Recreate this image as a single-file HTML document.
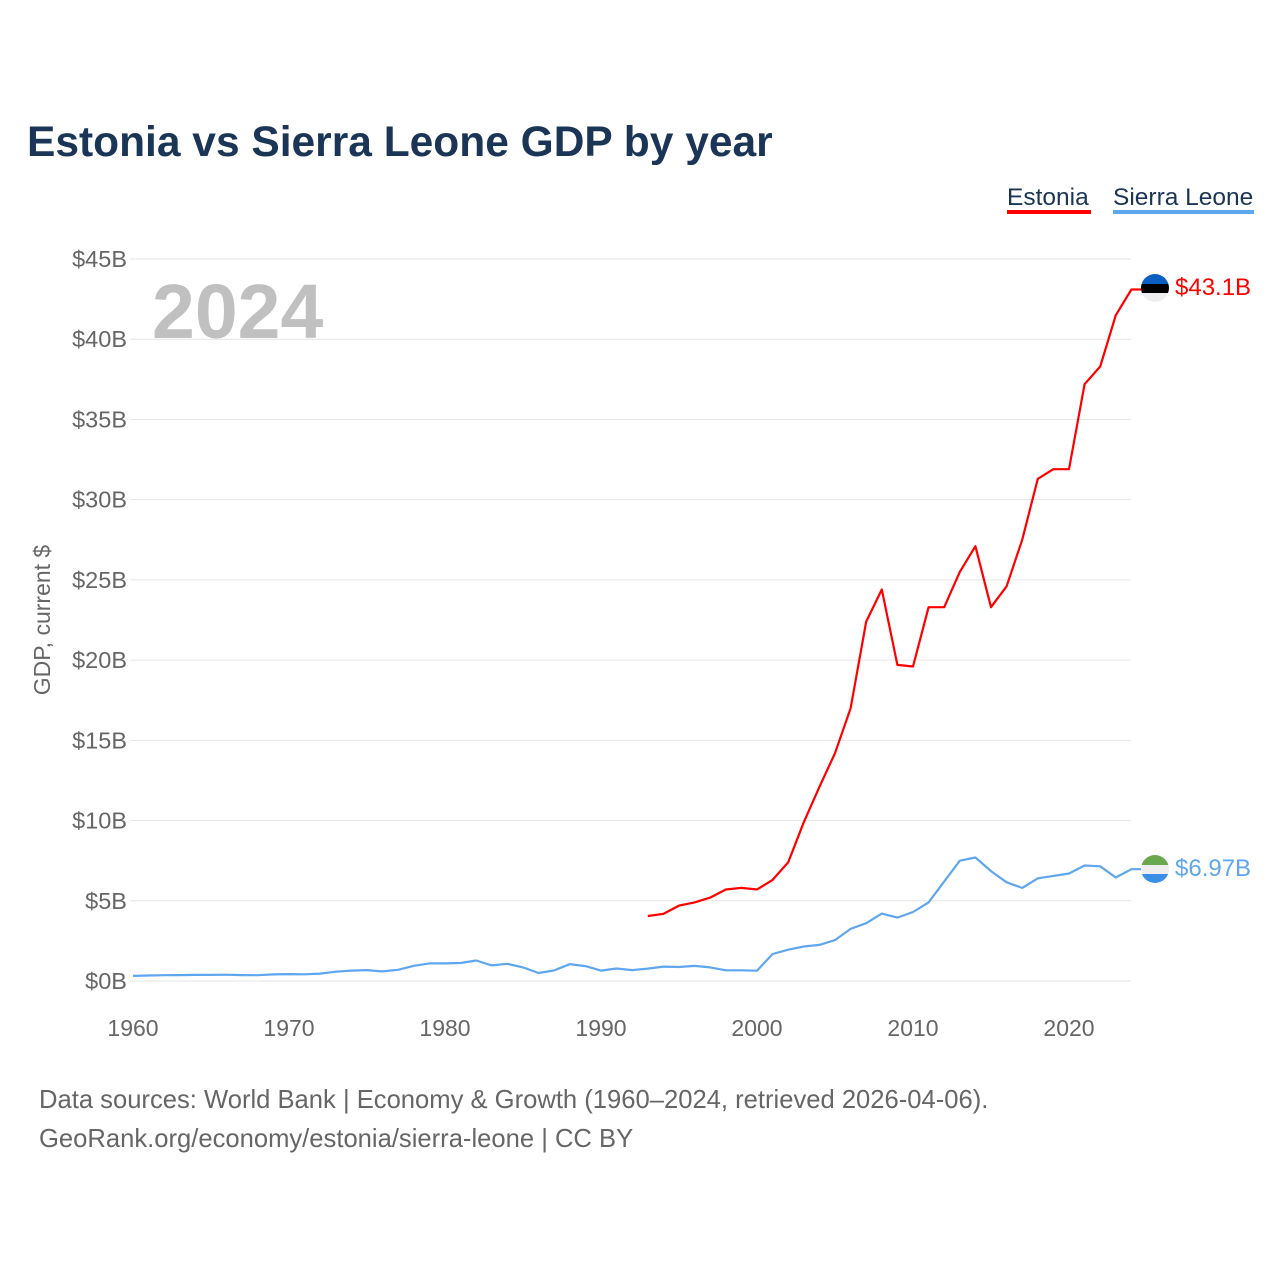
<!DOCTYPE html>
<html><head><meta charset="utf-8"><style>
body{margin:0;background:#fff;font-family:"Liberation Sans",sans-serif;}
</style></head><body>
<svg width="1280" height="1280" xmlns="http://www.w3.org/2000/svg" id="chart" font-family="Liberation Sans, sans-serif">
<text x="27" y="156" font-size="42.5" font-weight="bold" fill="#1b3556">Estonia vs Sierra Leone GDP by year</text>
<g><text x="1007" y="205" font-size="24.5" fill="#1b3556">Estonia</text><rect x="1007" y="210" width="84" height="4" fill="#ff0000"/></g>
<g><text x="1113" y="205" font-size="24.5" fill="#1b3556">Sierra Leone</text><rect x="1113" y="210" width="141" height="4" fill="#5ea6ee"/></g>
<text x="152" y="338" font-size="77" font-weight="bold" fill="#c0c0c0">2024</text>
<text transform="translate(50,620) rotate(-90)" text-anchor="middle" font-size="23" fill="#666">GDP, current $</text>
<g id="grid"></g><g id="yt"></g><g id="xt"></g><g id="lines"></g>
<g><clipPath id="c1"><circle cx="1155" cy="288" r="14"/></clipPath><g clip-path="url(#c1)"><rect x="1141" y="274" width="28" height="10" fill="#0a5fc0"/><rect x="1141" y="284" width="28" height="9" fill="#000"/><rect x="1141" y="293" width="28" height="10" fill="#eee"/></g></g>
<g><clipPath id="c2"><circle cx="1155" cy="869" r="14"/></clipPath><g clip-path="url(#c2)"><rect x="1141" y="855" width="28" height="10" fill="#6aa84f"/><rect x="1141" y="865" width="28" height="9" fill="#eee"/><rect x="1141" y="874" width="28" height="10" fill="#3a8ee6"/></g></g>
<text x="1175" y="295" font-size="24" fill="#ff0000">$43.1B</text>
<text x="1175" y="876" font-size="24" fill="#5ea6ee">$6.97B</text>
<text x="39" y="1108" font-size="25.6" fill="#666">Data sources: World Bank | Economy &amp; Growth (1960–2024, retrieved 2026-04-06).</text>
<text x="39" y="1147" font-size="25.6" fill="#666">GeoRank.org/economy/estonia/sierra-leone | CC BY</text>
</svg>
<script>
const yTicks=[0,5,10,15,20,25,30,35,40,45];
const xTicks=[1960,1970,1980,1990,2000,2010,2020];
const estoniaStart=1993;
const estonia=[4.05,4.18,4.7,4.9,5.2,5.7,5.8,5.7,6.3,7.4,9.9,12.1,14.2,17.0,22.4,24.4,19.7,19.6,23.3,23.3,25.5,27.1,23.3,24.6,27.5,31.3,31.9,31.9,37.2,38.3,41.5,43.1];
const sierraStart=1960;
const sierra=[0.32,0.34,0.36,0.37,0.38,0.38,0.39,0.37,0.36,0.41,0.43,0.42,0.46,0.58,0.65,0.68,0.6,0.7,0.95,1.1,1.1,1.12,1.28,0.97,1.07,0.85,0.5,0.66,1.05,0.93,0.65,0.78,0.68,0.77,0.9,0.87,0.94,0.85,0.67,0.67,0.64,1.68,1.95,2.15,2.25,2.55,3.25,3.6,4.2,3.95,4.3,4.9,6.2,7.5,7.7,6.85,6.15,5.8,6.4,6.55,6.7,7.2,7.15,6.45,6.97];
const ns="http://www.w3.org/2000/svg";
const X=y=>133+(y-1960)*15.6, Y=v=>981-v*16.044;
function mk(t,a,p){const e=document.createElementNS(ns,t);for(const k in a)e.setAttribute(k,a[k]);document.getElementById(p).appendChild(e);return e;}
yTicks.forEach(v=>{
 const l=mk('line',{x1:130,x2:1131,y1:Y(v),y2:Y(v),stroke:'#e6e6e6','stroke-width':1},'grid');
 
 
 const t=mk('text',{x:127,y:Y(v)+8,'text-anchor':'end','font-size':23.5,fill:'#666'},'yt');
 t.textContent='$'+v+'B';
 
 
});
xTicks.forEach(v=>{
 const t=mk('text',{x:X(v),y:1036,'text-anchor':'middle','font-size':23,fill:'#666'},'xt');
 t.textContent=v;
 
 
});
function line(arr,start,col,name){
 const d=arr.map((v,i)=>(i?'L':'M')+X(start+i).toFixed(1)+','+Y(v).toFixed(1)).join('')+'L1141,'+Y(arr[arr.length-1]).toFixed(1);
 const p=mk('path',{d:d,fill:'none',stroke:col,'stroke-width':2.2,'stroke-linejoin':'round'},'lines');
 
 
}
line(sierra,sierraStart,'#5ea6ee','sierra-leone-line');
line(estonia,estoniaStart,'#ff0000','estonia-line');
</script>
</body></html>
